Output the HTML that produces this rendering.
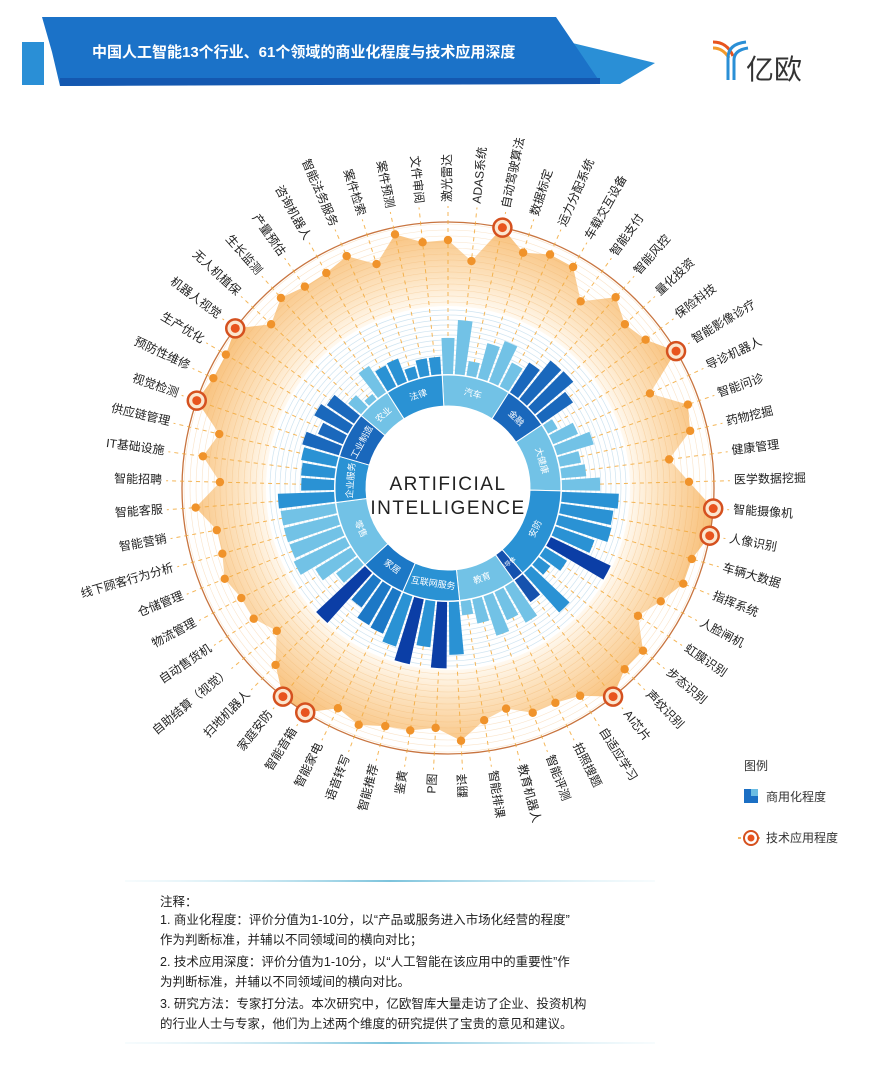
<!DOCTYPE html>
<html><head><meta charset="utf-8"><style>
html,body{margin:0;padding:0;background:#fff;}
svg{display:block;font-family:"Liberation Sans","Noto Sans CJK SC",sans-serif;}
</style></head><body>
<svg id="chart" width="890" height="1092" viewBox="0 0 890 1092" xmlns="http://www.w3.org/2000/svg">
<defs>
<radialGradient id="og" cx="448" cy="488" r="266" gradientUnits="userSpaceOnUse">
<stop offset="0.68" stop-color="#fffaf2"/><stop offset="0.78" stop-color="#fde6c6"/><stop offset="1" stop-color="#f8bf78"/>
</radialGradient>
<linearGradient id="lineg" x1="0" x2="1"><stop offset="0" stop-color="#d6eef6" stop-opacity="0.2"/><stop offset="0.5" stop-color="#7cc3dc"/><stop offset="1" stop-color="#d6eef6" stop-opacity="0.2"/></linearGradient>
</defs>
<g>
<polygon points="22,42 44,42 44,85 22,85" fill="#2a8fd6"/>
<polygon points="560,40 655,63 620,84 575,84" fill="#2a8fd6"/>
<polygon points="42,17 556,17 600,82 60,86 52,52" fill="#1b72c8"/>
<polygon points="60,78 600,78 600,84 60,86" fill="#1458b0"/>
<text x="92" y="57" fill="#fff" font-size="15" font-weight="bold">中国人工智能13个行业、61个领域的商业化程度与技术应用深度</text>
</g>
<g>
<path d="M713,42 q14,0 20,14" stroke="#e8541e" stroke-width="3" fill="none"/>
<path d="M713,48 q10,0 16,10" stroke="#f39a2b" stroke-width="3" fill="none"/>
<path d="M728,80 v-22 q0,-14 18,-16" stroke="#2a8fd6" stroke-width="3" fill="none"/>
<path d="M734,80 v-20 q0,-10 14,-12" stroke="#2a8fd6" stroke-width="3" fill="none"/>
<text x="746" y="79" font-size="28" fill="#333">亿欧</text>
</g>
<g id="radial"></g>
<g>
<text x="744" y="770" font-size="12" fill="#333">图例</text>
<g>
<rect x="744" y="789" width="14" height="14" fill="#1b6fc4"/><rect x="751" y="789" width="7" height="7" fill="#6cbde3"/>
<text x="766" y="801" font-size="12" fill="#333">商用化程度</text></g>
<g>
<line x1="738" y1="838" x2="760" y2="838" stroke="#f0a030" stroke-width="1.5" stroke-dasharray="3 2"/>
<circle cx="751" cy="838" r="7" fill="#fff" stroke="#d5511f" stroke-width="2"/><circle cx="751" cy="838" r="3.5" fill="#e8541e"/>
<text x="766" y="842" font-size="12" fill="#333">技术应用程度</text></g>
</g>
<g>
<rect x="125" y="880" width="530" height="2" fill="url(#lineg)"/>
<rect x="125" y="1042" width="530" height="2" fill="url(#lineg)"/>
<g font-size="12.5" fill="#222">
<text x="160" y="906">注释：</text>
<text x="160" y="924">1. 商业化程度：评价分值为1-10分，以“产品或服务进入市场化经营的程度”</text>
<text x="160" y="944">作为判断标准，并辅以不同领域间的横向对比；</text>
<text x="160" y="966">2. 技术应用深度：评价分值为1-10分，以“人工智能在该应用中的重要性”作</text>
<text x="160" y="986">为判断标准，并辅以不同领域间的横向对比。</text>
<text x="160" y="1008">3. 研究方法：专家打分法。本次研究中，亿欧智库大量走访了企业、投资机构</text>
<text x="160" y="1028">的行业人士与专家，他们为上述两个维度的研究提供了宝贵的意见和建议。</text>
</g></g>
</svg>
<script>
const labels = ["激光雷达","ADAS系统","自动驾驶算法","数据标定","运力分配系统","车载交互设备","智能支付","智能风控","量化投资","保险科技","智能影像诊疗","导诊机器人","智能问诊","药物挖掘","健康管理","医学数据挖掘","智能摄像机","人像识别","车辆大数据","指挥系统","人脸闸机","虹膜识别","步态识别","声纹识别","AI芯片","自适应学习","拍照搜题","智能评测","教育机器人","智能排课","翻译","P图","鉴黄","智能推荐","语音转写","智能家电","智能音箱","家庭安防","扫地机器人","自助结算（视觉）","自动售货机","物流管理","仓储管理","线下顾客行为分析","智能营销","智能客服","智能招聘","IT基础设施","供应链管理","视觉检测","预防性维修","生产优化","机器人视觉","无人机植保","生长监测","产量预估","咨询机器人","智能法务服务","案件检索","案件预测","文件审阅"];
const commercial = [5.4,8.1,2.2,5.4,6.5,4,5.3,7.4,7.5,5.6,1.6,4,5.7,3.2,3.7,5.7,8.5,7.9,8.1,6.2,9.9,3.8,2.2,7.9,4,6.2,4.6,6.2,3.7,2.1,7.9,9.9,6.9,9.9,7.9,6.8,6.6,5,10,4,6.2,8.5,8.1,8.2,8.2,8.4,4.9,5,5.3,5.7,4,5.7,4.9,2.5,1,4.7,3.5,3.7,1.8,2.6,2.6];
const tech = [7.9,5.6,10,7.8,8.7,8.6,5.7,8.6,7.1,7.8,10,5.0,8.6,8.0,5.0,7.1,10,10,8.6,8.6,7.1,5.7,8.6,8.5,10,7.7,7,7,5.6,6.4,8.5,7,7.6,7.7,8.5,7.7,10,10,7.8,5.0,6.3,6.3,7.1,6.4,6.4,8.5,5.6,7.8,6.4,10,9.2,9.2,10,7.1,8.5,7.8,7.8,8.5,6.4,9.2,7.8];
const industries = ["汽车","金融","大健康","安防","半导体","教育","互联网服务","家居","零售","企业服务","工业制造","农业","法律"];
const industryCounts = [6,4,6,8,1,5,5,4,6,4,4,3,5];
const highlightBars = ["人脸闸机","P图","智能推荐","扫地机器人"];
</script>
<script>
const NS="http://www.w3.org/2000/svg";
const cx=448, cy=488, N=labels.length, step=360/N;
const indColors=["#72c2e6","#1a68bc","#72c2e6","#2a92d4","#1552ae","#72c2e6","#2a92d4","#1c78c6","#72c2e6","#2a92d4","#1a68bc","#72c2e6","#2a92d4"];
const g=document.getElementById('radial');
function pt(r,a){const t=a*Math.PI/180;return [cx+r*Math.sin(t),cy-r*Math.cos(t)];}
function ang(i){return i*step;}
function rTech(v){return 180+8.6*v;}
function rBar(v){return 114+6.7*v;}
function mk(tag,attrs,parent){const e=document.createElementNS(NS,tag);for(const k in attrs)e.setAttribute(k,attrs[k]);(parent||g).appendChild(e);return e;}
function wedge(r1,r2,a1,a2){const p1=pt(r1,a1),p2=pt(r2,a1),p3=pt(r2,a2),p4=pt(r1,a2);const l=(a2-a1)>180?1:0;
return `M${p1} L${p2} A${r2} ${r2} 0 ${l} 1 ${p3} L${p4} A${r1} ${r1} 0 ${l} 0 ${p1}Z`;}
let pts=tech.map((v,i)=>pt(rTech(v),ang(i)).join(',')).join(' ');
const poly=mk('polygon',{points:pts,fill:'url(#og)'});


for(let r=186;r<=264;r+=6){mk('circle',{cx,cy,r,fill:'none',stroke:'#f0b060','stroke-width':0.6,'stroke-opacity':0.35});}
const white=mk('circle',{cx,cy,r:182,fill:'#ffffff'});


for(let r=118;r<=180;r+=5){mk('circle',{cx,cy,r,fill:'none',stroke:'#cfe4f1','stroke-width':0.7});}
const outer=mk('circle',{cx,cy,r:266,fill:'none',stroke:'#c8743f','stroke-width':1.3});


for(let i=0;i<N;i++){const a=pt(120,ang(i)),b=pt(282,ang(i));
 const l=mk('line',{x1:a[0],y1:a[1],x2:b[0],y2:b[1],stroke:'#f2a93b','stroke-width':1,'stroke-dasharray':'4 4','stroke-opacity':0.85});
 
 }
const barColor=[];
industryCounts.forEach((c,k)=>{for(let j=0;j<c;j++){barColor.push(indColors[k]);}});
for(let i=0;i<N;i++){const a=ang(i);
 const col=highlightBars.includes(labels[i])?'#0b3ea6':barColor[i];
 const b=mk('path',{d:wedge(114,rBar(commercial[i]),a-2.5,a+2.5),fill:col});
 
 }
let start=0;
industryCounts.forEach((c,k)=>{const a1=(start-0.5)*step,a2=(start+c-0.5)*step;
 const s=mk('path',{d:wedge(82,113,a1,a2),fill:indColors[k],stroke:'#fff','stroke-width':1});
 
 
 const mid=(a1+a2)/2;const p=pt(97,mid);let rot=mid;if(mid>90&&mid<270)rot=mid+180;
 const t=mk('text',{x:p[0],y:p[1],transform:`rotate(${rot} ${p[0]} ${p[1]})`,'text-anchor':'middle','dominant-baseline':'middle','font-size':c<2?6:9,fill:'#fff'});
 t.textContent=industries[k];
 
 
 start+=c;});
const t1=mk('text',{x:cx,y:490,'text-anchor':'middle','font-size':19,'letter-spacing':1.5,fill:'#222'});t1.textContent='ARTIFICIAL';


const t2=mk('text',{x:cx,y:514,'text-anchor':'middle','font-size':19,'letter-spacing':1.5,fill:'#222'});t2.textContent='INTELLIGENCE';


for(let i=0;i<N;i++){const p=pt(rTech(tech[i]),ang(i));
 if(tech[i]>=10){const c=mk('circle',{cx:p[0],cy:p[1],r:9,fill:'#fbe6cf',stroke:'#d5511f','stroke-width':2.5});
  
  
  mk('circle',{cx:p[0],cy:p[1],r:4.5,fill:'#e8541e'});}
 else{const c=mk('circle',{cx:p[0],cy:p[1],r:4.2,fill:'#f0932b'});
  
  }}
for(let i=0;i<N;i++){const a=ang(i);const p=pt(286,a);const out=a<=174;
 const t=mk('text',{x:p[0],y:p[1],transform:`rotate(${out?a-90:a+90} ${p[0]} ${p[1]})`,'text-anchor':out?'start':'end','dominant-baseline':'middle','font-size':12,fill:'#222'});
 t.textContent=labels[i];
 
 }
</script>
</body></html>
